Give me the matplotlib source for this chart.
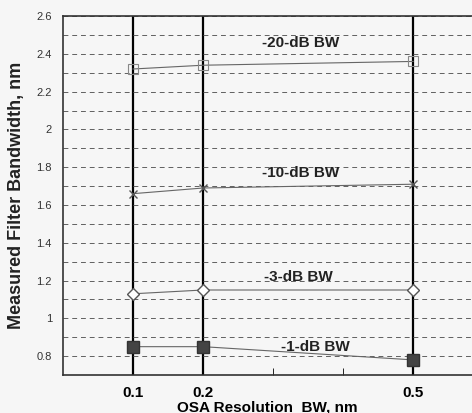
import matplotlib.pyplot as plt
from matplotlib.ticker import MultipleLocator

# OSA resolution bandwidth, nm
resolution = [0.1, 0.2, 0.5]

# measured filter bandwidth, nm
bw_20db = [2.32, 2.34, 2.36]
bw_10db = [1.66, 1.69, 1.71]
bw_3db = [1.13, 1.15, 1.15]
bw_1db = [0.85, 0.85, 0.78]

labels = ['-20-dB BW', '-10-dB BW', '-3-dB BW', '-1-dB BW']
label_pos = [(0.339, 2.456), (0.34, 1.77), (0.336, 1.22), (0.361, 0.848)]

plt.rcParams['font.family'] = ['Liberation Sans', 'DejaVu Sans']

fig = plt.figure(figsize=(4.72, 4.13), dpi=100, facecolor='#f6f6f6')
ax = fig.add_axes([0.1335, 0.092, 0.8665, 0.869])
ax.set_facecolor('#f6f6f6')

# grid: dashed horizontals every 0.1, solid verticals at data x
ax.yaxis.set_major_locator(MultipleLocator(0.2))
ax.yaxis.set_minor_locator(MultipleLocator(0.1))
ax.grid(True, which='both', axis='y', color='#606060', linestyle=(0, (5, 4)), linewidth=0.7)
for x in resolution:
    ax.axvline(x, color='black', linewidth=1.6, zorder=1)

line_kw = dict(color='#666666', linewidth=0.8, zorder=3)
ax.plot(resolution, bw_20db, marker='s', markersize=7, markerfacecolor='none',
        markeredgecolor='#888888', markeredgewidth=0.8, **line_kw)
ax.plot(resolution, bw_10db, marker='x', markersize=6, markeredgecolor='#555555', **line_kw)
ax.plot(resolution, bw_3db, marker='D', markersize=6.5, markerfacecolor='white',
        markeredgecolor='#555555', **line_kw)
ax.plot(resolution, bw_1db, marker='s', markersize=8, markerfacecolor='#444444',
        markeredgecolor='#333333', **line_kw)

for txt, (x, y) in zip(labels, label_pos):
    ax.text(x, y, txt, fontsize=11, fontweight='bold', color='#222222',
            ha='center', va='center', zorder=4)

ax.set_xlim(0, 0.584)
ax.set_ylim(0.7, 2.6)
ax.set_xticks(resolution)
ax.set_xticklabels(['0.1', '0.2', '0.5'], fontsize=11, fontweight='bold')
ax.set_xticks([0.3, 0.4], minor=True)
ax.tick_params(axis='x', which='major', length=0, pad=8)
ax.tick_params(axis='x', which='minor', length=5, direction='in')
ax.set_yticklabels([f'{v:g}' for v in ax.get_yticks()], fontsize=8, color='#333333')
ax.tick_params(axis='y', which='both', length=0, pad=8)
ax.set_ylim(0.7, 2.6)

for s in ['left', 'bottom', 'top']:
    ax.spines[s].set_color('#333333')
    ax.spines[s].set_linewidth(1.2)
ax.spines['right'].set_visible(False)

ax.set_xlabel('OSA Resolution  BW, nm', fontsize=11, fontweight='bold', labelpad=0)
ax.set_ylabel('Measured Filter Bandwidth, nm', fontsize=13, fontweight='bold',
              color='#222222', labelpad=8)

fig.savefig('out.png', dpi=100, facecolor=fig.get_facecolor())
